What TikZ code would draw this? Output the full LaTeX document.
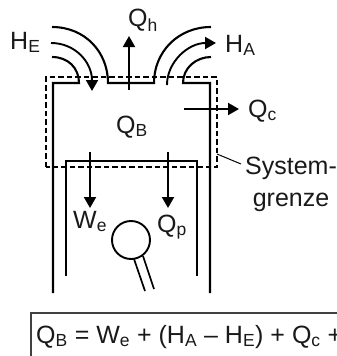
\documentclass[tikz,border=0pt]{standalone}
\usepackage{fontspec}
\setmainfont{Liberation Sans}
\usetikzlibrary{arrows.meta}
\begin{document}
\begin{tikzpicture}[x=1pt,y=-1pt,
  wall/.style={line width=2.1pt,black},
  flow/.style={line width=1.9pt,black,-{Triangle[length=11pt,width=12pt]}},
  boundary/.style={line width=1.2pt,black,dash pattern=on 5.5pt off 3pt},
  lbl/.style={inner sep=0pt,font=\fontsize{25}{32}\selectfont,text=black!90}]
\useasboundingbox (0,0) rectangle (337,356);
% cylinder and valves
\draw[wall] (53,293) -- (53,83) -- (79,83) .. controls (79,68) and (68,57) .. (52,57);
\draw[wall] (52,27) .. controls (85,27) and (108,52) .. (108,83) -- (154,83) .. controls (154,52) and (178,27) .. (211,27);
\draw[wall] (211,57) .. controls (196,57) and (183,68) .. (183,83) -- (210,83) -- (210,293);
% piston
\draw[wall] (66,276) -- (66,161) -- (197,161) -- (197,276);
% system boundary
\draw[boundary] (46,167) -- (46,77) -- (217,77) -- (217,167) -- cycle;
% coordinates for flows
\coordinate (heS) at (51,43); \coordinate (heE) at (92,91);
\coordinate (haS) at (167,85); \coordinate (haE) at (216,43);
\coordinate (qhS) at (129,90); \coordinate (qhE) at (129,36);
\coordinate (qcS) at (184,109); \coordinate (qcE) at (239,109);
\coordinate (weS) at (90,152); \coordinate (weE) at (90,208);
\coordinate (qpS) at (168,152); \coordinate (qpE) at (168,208);
\draw[flow] (heS) .. controls (75,43) and (92,62) .. (heE);
\draw[flow] (haS) .. controls (167,62) and (188,43) .. (haE);
\draw[flow] (qhS) -- (qhE);
\draw[flow] (qcS) -- (qcE);
\draw[flow] (weS) -- (weE);
\draw[flow] (qpS) -- (qpE);
% connecting rod
\node[circle,draw,line width=1.9pt,minimum size=38pt,inner sep=0pt] (pin) at (131,240) {};
\coordinate (r1a) at (134,259); \coordinate (r1b) at (145,291);
\coordinate (r2a) at (143,256); \coordinate (r2b) at (154,289);
\draw[line width=1.7pt] (r1a) -- (r1b);
\draw[line width=1.7pt] (r2a) -- (r2b);
% labels
\node[lbl,anchor=base west] (HE) at (10,49) {H\textsubscript{E}};
\node[lbl,anchor=base west] (Qh) at (128,27) {Q\textsubscript{h}};
\node[lbl,anchor=base west] (HA) at (225,52) {H\textsubscript{A}};
\node[lbl,anchor=base west] (Qc) at (248,117) {Q\textsubscript{c}};
\node[lbl,anchor=base west] (QB) at (116,133) {Q\textsubscript{B}};
\node[lbl,anchor=base west] (We) at (73,228) {W\textsubscript{e}};
\node[lbl,anchor=base west] (Qp) at (157,232) {Q\textsubscript{p}};
\node[lbl,anchor=base,text width=100pt,align=center] (SG) at (291,174) {System-\\grenze};
\coordinate (lead) at (217,154);
\draw[line width=1pt] (lead) -- (241,164);
% equation box
\draw[line width=1.2pt,black!75] (31,356) -- (31,313) -- (337,313);
\begin{scope}
\clip (0,0) rectangle (337,356);
\node[lbl,anchor=base west] (eq) at (36,343) {Q\textsubscript{B} = W\textsubscript{e} + (H\textsubscript{A} – H\textsubscript{E}) + Q\textsubscript{c} +};
\end{scope}
\end{tikzpicture}
\end{document}
